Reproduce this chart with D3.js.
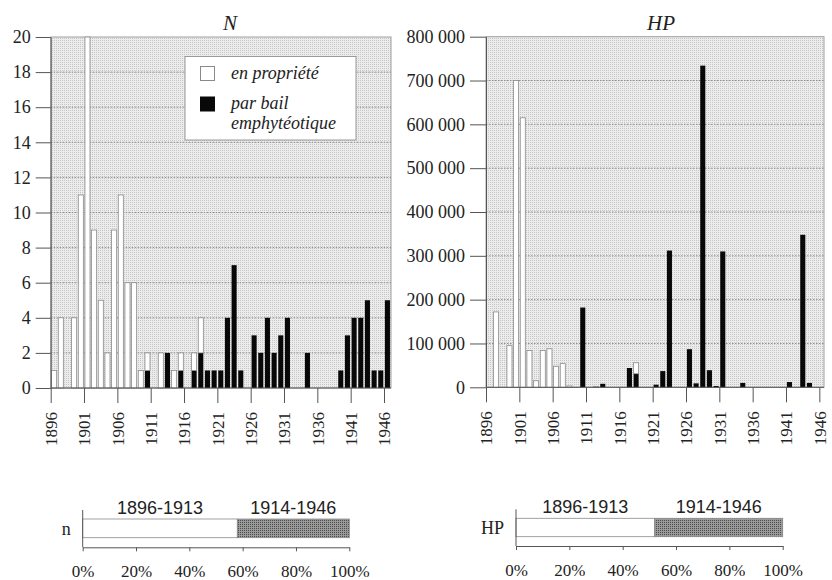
<!DOCTYPE html>
<head>
<meta charset="utf-8" />
<title>N et HP</title>
<script src="https://d3js.org/d3.v7.min.js"></script>
<style>
    body { margin: 0; background: #fff; }
    svg text { font-family: 'Liberation Serif', 'Tinos', 'Times New Roman', 'DejaVu Serif', serif; fill: #222; }
    svg text.sans { font-family: 'Liberation Sans', Arimo, Arial, 'DejaVu Sans', sans-serif; }
    .axis path, .axis line { stroke: #555; }
</style>
</head>
<body>
<svg width="832" height="580"></svg>
<script>
    // one value per year, 1896 .. 1946
    let firstYear = 1896, lastYear = 1946;
    let nPropriete = [1,4,0,4,11,20,9,5,2,9, 11,6,6,1,1,0,2,0,1,1, 0,1,2,0,0,0,0,0,0,0,
                      0,0,0,0,0,0,0,0,0,0, 0,0,0,0,0,0,0,0,0,0, 0];
    let nBail = [0,0,0,0,0,0,0,0,0,0, 0,0,0,0,1,0,0,2,0,1, 0,1,2,1,1,1,4,7,1,0,
                 3,2,4,2,3,4,0,0,2,0, 0,0,0,1,3,4,4,5,1,1, 5];
    let hpPropriete = [0,172000,0,95000,700000,615000,84000,15000,84000,88000,
                       48000,54000,3000,0,0,0,2000,0,0,0,
                       0,0,25000,0,0,0,0,0,0,0,
                       0,0,0,0,0,0,0,0,0,0, 0,0,0,0,0,0,0,0,0,0, 0];
    let hpBail = [0,0,0,0,0,0,0,0,0,0,
                  0,0,0,0,182000,0,0,8000,0,0,
                  0,44000,31000,0,0,6000,37000,312000,0,0,
                  87000,9000,734000,39000,3000,310000,0,0,10000,0,
                  0,0,0,0,0,12000,0,348000,10000,0,
                  0];
    let yearTicks = [1896,1901,1906,1911,1916,1921,1926,1931,1936,1941,1946];
    let nTicks = [0,2,4,6,8,10,12,14,16,18,20];
    let hpTicks = [0,100000,200000,300000,400000,500000,600000,700000,800000];
    let legendLabels = ["en propriété", "par bail", "emphytéotique"];
    let periods = ["1896-1913", "1914-1946"];
    let shareN = [58, 42];
    let shareHP = [52, 48];
    let pctTicks = [0,20,40,60,80,100];

    let years = d3.range(firstYear, lastYear + 1);
    let svg = d3.select("svg");
    let defs = svg.append("defs");

    let bg = defs.append("pattern").attr("id", "bg").attr("patternUnits", "userSpaceOnUse")
        .attr("width", 2).attr("height", 2);
    bg.append("rect").attr("width", 2).attr("height", 2).attr("fill", "#ececec");
    bg.append("rect").attr("width", 1).attr("height", 1).attr("fill", "#c6c6c6");

    let dark = defs.append("pattern").attr("id", "dark").attr("patternUnits", "userSpaceOnUse")
        .attr("width", 2).attr("height", 2);
    dark.append("rect").attr("width", 2).attr("height", 2).attr("fill", "#9a9a9a");
    dark.append("rect").attr("width", 1).attr("height", 1).attr("fill", "#4a4a4a");

    let spaced = d3.formatLocale({decimal: ",", thousands: " ", grouping: [3], currency: ["", ""]}).format(",d");

    function drawPanel(cfg) {
        let x = d3.scaleLinear().domain([firstYear, cfg.xEnd]).range([cfg.left, cfg.right]);
        let y = d3.scaleLinear().domain([0, cfg.yMax]).range([cfg.bottom, cfg.top]);
        let g = svg.append("g");

        g.append("rect")
            .attr("x", cfg.left).attr("y", cfg.top)
            .attr("width", cfg.right - cfg.left).attr("height", cfg.bottom - cfg.top)
            .attr("fill", "url(#bg)").attr("stroke", "#a0a0a0");

        g.selectAll(".grid").data(cfg.ticks.filter(t => t > 0 && t < cfg.yMax)).join("line")
            .attr("x1", cfg.left).attr("x2", cfg.right)
            .attr("y1", d => y(d)).attr("y2", d => y(d))
            .attr("stroke", "#8c8c8c").attr("stroke-dasharray", "1.5,1.5");

        let rows = years.map((yr, i) => ({year: yr, bail: cfg.bail[i], prop: cfg.prop[i]}));
        let layers = d3.stack().keys(["bail", "prop"])(rows);
        let bw = x(firstYear + 1) - x(firstYear) - 1.6;

        g.selectAll(".layer").data(layers).join("g")
            .attr("fill", d => d.key == "bail" ? "#080808" : "#fff")
            .attr("stroke", d => d.key == "bail" ? "none" : "#8a8a8a")
            .attr("stroke-width", 0.8)
            .selectAll("rect").data(d => d.filter(s => s[1] > s[0])).join("rect")
            .attr("x", s => x(s.data.year) + 0.9)
            .attr("width", bw)
            .attr("y", s => y(s[1]))
            .attr("height", s => y(s[0]) - y(s[1]));

        let ya = g.append("g").attr("class", "axis").attr("transform", "translate(" + cfg.left + ",0)");
        ya.call(d3.axisLeft(y).tickValues(d3.range(0, cfg.yMax + cfg.minor / 2, cfg.minor))
            .tickSize(cfg.minorLen).tickFormat(""));
        ya.call(d3.axisLeft(y).tickValues(cfg.ticks).tickSize(cfg.majorLen).tickPadding(5)
            .tickFormat(cfg.fmt).tickSizeOuter(0));
        ya.attr("font-family", null).attr("font-size", null);
        ya.selectAll("text").style("font-size", "18px").attr("fill", "#222");

        let xa = g.append("g").attr("class", "axis").attr("transform", "translate(0," + cfg.bottom + ")");
        xa.call(d3.axisBottom(x).tickValues(yearTicks).tickSize(15).tickSizeOuter(0).tickFormat(d3.format("d")));
        xa.attr("font-family", null).attr("font-size", null);
        xa.select(".domain").attr("d", "M" + cfg.left + ",0H" + cfg.right);
        xa.selectAll("text")
            .attr("transform", "rotate(-90)")
            .attr("x", -24).attr("y", 0).attr("dy", "0.35em")
            .style("text-anchor", "end")
            .style("font-size", "17px").attr("fill", "#222");

        svg.append("text")
            .attr("x", cfg.titleX).attr("y", 30)
            .attr("text-anchor", "middle")
            .style("font-style", "italic").style("font-size", "21px")
            .text(cfg.title);
    }

    drawPanel({title: "N", titleX: 230, left: 50.7, right: 391, top: 37, bottom: 388, xEnd: 1947.05,
        yMax: 20, ticks: nTicks, minor: 0.5, minorLen: 7, majorLen: 15,
        fmt: d3.format("d"), prop: nPropriete, bail: nBail});
    drawPanel({title: "HP", titleX: 661, left: 486, right: 824, top: 36.7, bottom: 387.3, xEnd: 1946.7,
        yMax: 800000, ticks: hpTicks, minor: 20000, minorLen: 9, majorLen: 16,
        fmt: spaced, prop: hpPropriete, bail: hpBail});

    // legend
    let lg = svg.append("g");
    lg.append("rect").attr("x", 185).attr("y", 56.5).attr("width", 171).attr("height", 83.5)
        .attr("fill", "#fff").attr("stroke", "#999");
    lg.append("rect").attr("x", 200.5).attr("y", 66.5).attr("width", 14).attr("height", 14)
        .attr("fill", "#fff").attr("stroke", "#8a8a8a");
    lg.append("rect").attr("x", 200).attr("y", 96.5).attr("width", 15).attr("height", 15)
        .attr("fill", "#080808");
    lg.selectAll(".lt").data(legendLabels).join("text")
        .attr("x", 231).attr("y", (d, i) => [79, 109, 129][i])
        .style("font-style", "italic").style("font-size", "18px")
        .text(d => d);

    // bottom share bars
    function drawShare(cfg) {
        let x = d3.scaleLinear().domain([0, 100]).range([cfg.left, cfg.right]);
        let g = svg.append("g");
        let segs = [];
        let acc = 0;
        cfg.values.forEach((v, i) => { segs.push({start: acc, end: acc + v, label: periods[i], i: i}); acc += v; });

        g.selectAll(".seg").data(segs).join("rect")
            .attr("x", d => x(d.start)).attr("width", d => x(d.end) - x(d.start))
            .attr("y", cfg.barTop).attr("height", cfg.barH)
            .attr("fill", d => d.i == 0 ? "#fff" : "url(#dark)")
            .attr("stroke", "#8a8a8a").attr("stroke-width", 0.8);

        g.selectAll(".pl").data(segs).join("text")
            .attr("class", "sans")
            .attr("x", d => x((d.start + d.end) / 2)).attr("y", cfg.barTop - 5)
            .attr("text-anchor", "middle")
            .style("font-size", "18px")
            .text(d => d.label);

        g.append("line").attr("x1", cfg.left).attr("x2", cfg.left)
            .attr("y1", cfg.barTop - 9).attr("y2", cfg.axisY).attr("stroke", "#555");

        let xa = g.append("g").attr("class", "axis").attr("transform", "translate(0," + cfg.axisY + ")");
        xa.call(d3.axisBottom(x).tickValues(pctTicks).tickSize(4).tickSizeOuter(0).tickPadding(14)
            .tickFormat(d => d + "%"));
        xa.attr("font-family", null).attr("font-size", null);
        xa.selectAll("text").style("font-size", "17px").attr("fill", "#222");

        g.append("text").attr("x", cfg.left - 12).attr("y", cfg.barTop + cfg.barH / 2)
            .attr("dy", "0.35em").attr("text-anchor", "end")
            .style("font-size", "18px")
            .text(cfg.name);
    }

    drawShare({name: "n", left: 82.7, right: 349.3, barTop: 519, barH: 18.7, axisY: 547.3, values: shareN});
    drawShare({name: "HP", left: 516, right: 782.7, barTop: 518.3, barH: 18.4, axisY: 546, values: shareHP});
</script>
</body>
